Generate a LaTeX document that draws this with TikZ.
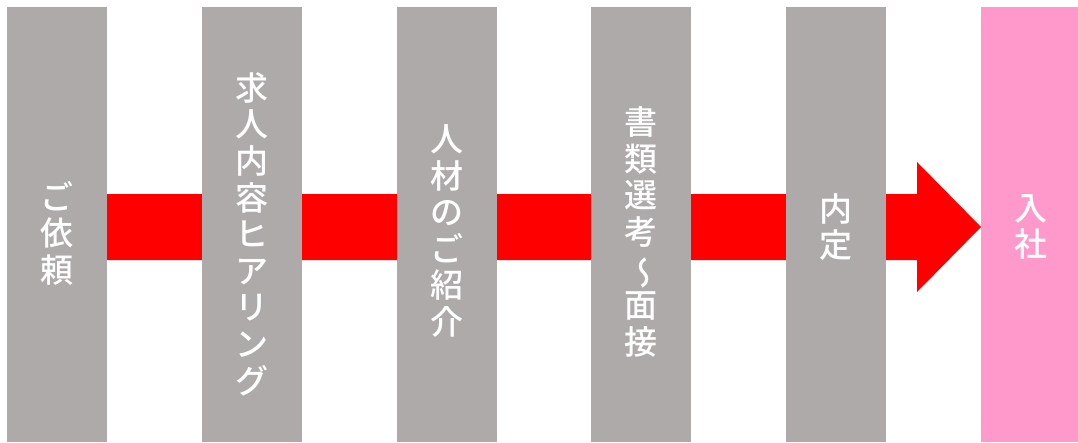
\documentclass[tikz,border=0pt]{standalone}
\usepackage{fontspec}
\newfontfamily\cjk{Noto Sans CJK JP Medium}
\definecolor{colgray}{HTML}{AEAAAA}
\definecolor{colpink}{HTML}{FF99CC}
\definecolor{arrred}{HTML}{FF0000}
\tikzset{
  stepcol/.style={fill=colgray, draw=none, minimum width=100pt, minimum height=435pt, anchor=north, inner sep=0pt},
  lastcol/.style={fill=colpink, draw=none, minimum width=97pt, minimum height=435pt, anchor=north west, inner sep=0pt},
  vtext/.style={text=white, align=center, inner sep=0pt, font=\cjk\fontsize{33}{36.6}\selectfont},
}
\begin{document}
\begin{tikzpicture}[x=1pt,y=-1pt]
\useasboundingbox (0,0) rectangle (1078,442);
% red arrow (drawn first, columns cover it)
\coordinate (s1) at (107,194);
\coordinate (s2) at (917,194);
\coordinate (h1) at (917,162);
\coordinate (tip) at (981,227);
\coordinate (h2) at (917,292);
\coordinate (s3) at (917,260);
\coordinate (s4) at (107,260);
\fill[arrred] (s1) -- (s2) -- (h1) -- (tip) -- (h2) -- (s3) -- (s4) -- cycle;
% columns
\node[stepcol] (c1) at (57,7) {};
\node[stepcol] (c2) at (252,7) {};
\node[stepcol] (c3) at (446.5,7) {};
\node[stepcol] (c4) at (640.5,7) {};
\node[stepcol] (c5) at (835.5,7) {};
\node[lastcol] (c6) at (981,7) {};
% labels
\node[vtext] (t1) at (57,233) {ご\\依\\頼};
\node[vtext] (t2) at (252,234) {求\\人\\内\\容\\ヒ\\ア\\リ\\ン\\グ};
\node[vtext] (t3) at (446.5,231) {人\\材\\の\\ご\\紹\\介};
\node[vtext] (t4) at (640.5,232) {書\\類\\選\\考\\\reflectbox{\rotatebox[origin=c]{90}{～}}\\面\\接};
\node[vtext] (t5) at (835.5,227) {内\\定};
\node[vtext] (t6) at (1031,227) {入\\社};
\end{tikzpicture}
\end{document}
